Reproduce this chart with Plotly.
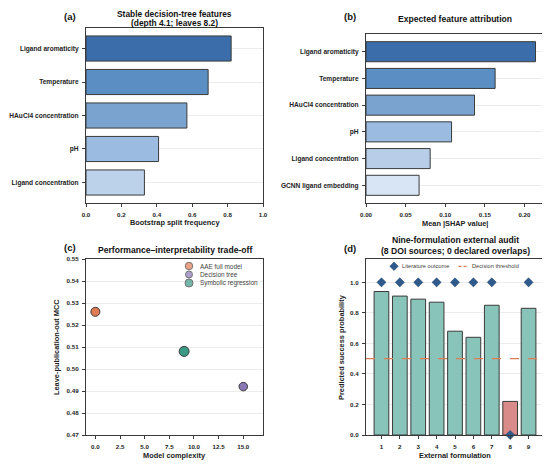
import plotly.graph_objects as go

# (a) decision-tree split frequency
tree_features = ["Ligand aromaticity", "Temperature", "HAuCl4 concentration", "pH", "Ligand concentration"]
tree_freq = [0.82, 0.69, 0.57, 0.41, 0.33]

# (b) mean |SHAP|
shap_features = ["Ligand aromaticity", "Temperature", "HAuCl4 concentration", "pH",
                 "Ligand concentration", "GCNN ligand embedding"]
shap_vals = [0.214, 0.163, 0.137, 0.108, 0.081, 0.067]

# (c) performance vs complexity
models = ["AAE full model", "Decision tree", "Symbolic regression"]
complexity = [0, 15, 9]
mcc = [0.526, 0.492, 0.508]

# (d) external audit
formulations = [1, 2, 3, 4, 5, 6, 7, 8, 9]
pred_prob = [0.94, 0.91, 0.89, 0.87, 0.68, 0.64, 0.85, 0.22, 0.83]
lit_outcome = [1, 1, 1, 1, 1, 1, 1, 0, 1]
threshold = 0.5

# page is 550x466 but the body has an 8px margin, so the figure is 542x458
OX, OY = 8, 8
FW, FH = 542, 458
FONT = "Liberation Sans, Arial, sans-serif"
EDGE = "#3a3a3a"
GRID = "#ececec"

def px(X):
    return (X - OX) / FW

def py(Y):
    return 1 - (Y - OY) / FH

def dx(a, b):
    return [px(a), px(b)]

def dy(top, bottom):
    return [py(bottom), py(top)]

blues_a = ["#3b6daa", "#5b8fc4", "#7aa4cf", "#9bbce0", "#bcd1ea"]
blues_b = ["#3b6daa", "#5b8fc4", "#7aa4cf", "#9bbce0", "#b8cde8", "#d7e5f4"]
model_colors = ["#e07b54", "#8a77b6", "#3b9a86"]
model_sizes = [9, 8.5, 10]
DIAMOND = "#2f5b8c"
THRESH = "#e07b54"

fig = go.Figure()

fig.add_trace(go.Bar(
    x=tree_freq, y=list(range(len(tree_features))), orientation="h", width=0.75,
    marker=dict(color=blues_a, line=dict(color=EDGE, width=1)),
    xaxis="x", yaxis="y", showlegend=False))

fig.add_trace(go.Bar(
    x=shap_vals, y=list(range(len(shap_features))), orientation="h", width=0.75,
    marker=dict(color=blues_b, line=dict(color=EDGE, width=1)),
    xaxis="x2", yaxis="y2", showlegend=False))

for cx, cy, col, sz in zip(complexity, mcc, model_colors, model_sizes):
    fig.add_trace(go.Scatter(
        x=[cx], y=[cy], mode="markers", showlegend=False,
        marker=dict(size=sz, color=col, line=dict(color=EDGE, width=1)),
        xaxis="x3", yaxis="y3"))

bar_cols = ["#d98b89" if p < threshold else "#88c4b9" for p in pred_prob]
fig.add_trace(go.Bar(
    x=formulations, y=pred_prob, width=0.8,
    marker=dict(color=bar_cols, line=dict(color=EDGE, width=1)),
    xaxis="x4", yaxis="y4", showlegend=False))
fig.add_trace(go.Scatter(
    x=[0.16, 9.84], y=[threshold, threshold], mode="lines", showlegend=False,
    line=dict(color=THRESH, width=1.3, dash="dash"),
    xaxis="x4", yaxis="y4"))
fig.add_trace(go.Scatter(
    x=formulations, y=lit_outcome, mode="markers", showlegend=False,
    marker=dict(symbol="diamond", size=7, color=DIAMOND, line=dict(color="#1f3f66", width=0.5)),
    cliponaxis=False, xaxis="x4", yaxis="y4"))

# hand-built legends on an overlay axis in page pixels
leg_c_x, leg_c_y, leg_c_dy = 189, 266, 8.5
fig.add_trace(go.Scatter(
    x=[leg_c_x] * len(models), y=[leg_c_y + i * leg_c_dy for i in range(len(models))],
    mode="markers", showlegend=False, hoverinfo="skip",
    marker=dict(size=[7.5, 7, 8], color=model_colors, line=dict(color=EDGE, width=1)),
    xaxis="x5", yaxis="y5"))
fig.add_trace(go.Scatter(
    x=[394], y=[266.3], mode="markers", showlegend=False, hoverinfo="skip",
    marker=dict(symbol="diamond", size=6.5, color=DIAMOND, line=dict(color="#1f3f66", width=0.5)),
    xaxis="x5", yaxis="y5"))
fig.add_trace(go.Scatter(
    x=[458.5, 468], y=[266.3, 266.3], mode="lines", showlegend=False, hoverinfo="skip",
    line=dict(color=THRESH, width=1.3, dash="3px,2px"),
    xaxis="x5", yaxis="y5"))

tickfont = dict(family=FONT, size=6.2, color="#222", weight="bold")
catfont = dict(family=FONT, size=6.6, color="#222", weight="bold")

def ax(**kw):
    base = dict(showline=True, linecolor=EDGE, linewidth=1.2, mirror=True,
                ticks="outside", ticklen=3, tickwidth=0.8, tickcolor=EDGE,
                tickfont=tickfont, zeroline=False, showgrid=False, automargin=False,
                ticklabelstandoff=2)
    base.update(kw)
    return base

fig.update_layout(
    template="none",
    width=FW, height=FH, margin=dict(l=0, r=0, t=0, b=0),
    paper_bgcolor="white", plot_bgcolor="rgba(0,0,0,0)",
    font=dict(family=FONT, color="#222"),
    showlegend=False,
    xaxis=ax(domain=dx(86, 263), anchor="y", range=[0, 1], dtick=0.2, tickformat=".1f"),
    yaxis=ax(domain=dy(28, 203), anchor="x", range=[4.6125, -0.6125],
             tickvals=list(range(len(tree_features))), ticktext=tree_features, tickfont=catfont,
             showgrid=True, gridcolor=GRID, gridwidth=0.8),
    xaxis2=ax(domain=dx(366, 544), anchor="y2", range=[0, 0.2247], dtick=0.05, tickformat=".2f"),
    yaxis2=ax(domain=dy(34, 203), anchor="x2", range=[5.6625, -0.6625],
              tickvals=list(range(len(shap_features))), ticktext=shap_features, tickfont=catfont,
              showgrid=True, gridcolor=GRID, gridwidth=0.8),
    xaxis3=ax(domain=dx(86, 263), anchor="y3", range=[-0.95, 17.0],
              tickvals=[0, 2.5, 5, 7.5, 10, 12.5, 15], tickformat=".1f"),
    yaxis3=ax(domain=dy(259, 435), anchor="x3", range=[0.47, 0.55], dtick=0.01, tickformat=".2f",
              showgrid=True, gridcolor=GRID, gridwidth=0.8),
    xaxis4=ax(domain=dx(366, 544), anchor="y4", range=[0.16, 9.84], tickvals=formulations),
    yaxis4=ax(domain=dy(259, 435), anchor="x4", range=[0, 1.153], tickvals=[0, 0.2, 0.4, 0.6, 0.8, 1.0],
              tickformat=".1f", showgrid=True, gridcolor=GRID, gridwidth=0.8),
    xaxis5=dict(domain=[0, 1], range=[OX, OX + FW], visible=False, fixedrange=True),
    yaxis5=dict(domain=[0, 1], range=[OY + FH, OY], visible=False, fixedrange=True),
)

def note(X, Y, text, size, color="#222", xanchor="center", angle=0):
    fig.add_annotation(x=px(X), y=py(Y), xref="paper", yref="paper", text=text, showarrow=False,
                       font=dict(family=FONT, size=size, color=color), xanchor=xanchor,
                       yanchor="middle", textangle=angle, borderpad=0)

# panel titles
note(174.5, 14, "<b>Stable decision-tree features</b>", 8.4, "#111")
note(174.5, 23, "<b>(depth 4.1; leaves 8.2)</b>", 8.4, "#111")
note(455, 19, "<b>Expected feature attribution</b>", 8.6, "#111")
note(174.5, 250, "<b>Performance\u2013interpretability trade-off</b>", 8.6, "#111")
note(455, 245, "<b>Nine-formulation external audit<br>(8 DOI sources; 0 declared overlaps)</b>", 8.6, "#111")

# panel letters
for X, Y, t in [(70, 16, "(a)"), (350, 16, "(b)"), (70, 247, "(c)"), (350, 248, "(d)")]:
    note(X, Y, "<b>%s</b>" % t, 9.5, "#111")

# axis titles
note(174.5, 222, "<b>Bootstrap split frequency</b>", 7.4)
note(455, 223, "<b>Mean |SHAP value|</b>", 7.4)
note(174.5, 455.5, "<b>Model complexity</b>", 7.4)
note(455, 455, "<b>External formulation</b>", 7.4)
note(56, 347, "<b>Leave-publication-out MCC</b>", 7.4, angle=-90)
note(341, 347, "<b>Predicted success probability</b>", 7.4, angle=-90)

# legend texts
for i, m in enumerate(models):
    note(199, leg_c_y + i * leg_c_dy, m, 6.4, "#444", xanchor="left")
note(401, 266.3, "Literature outcome", 5.7, "#444", xanchor="left")
note(471, 266.3, "Decision threshold", 5.7, "#444", xanchor="left")

fig.write_html("out.html")
